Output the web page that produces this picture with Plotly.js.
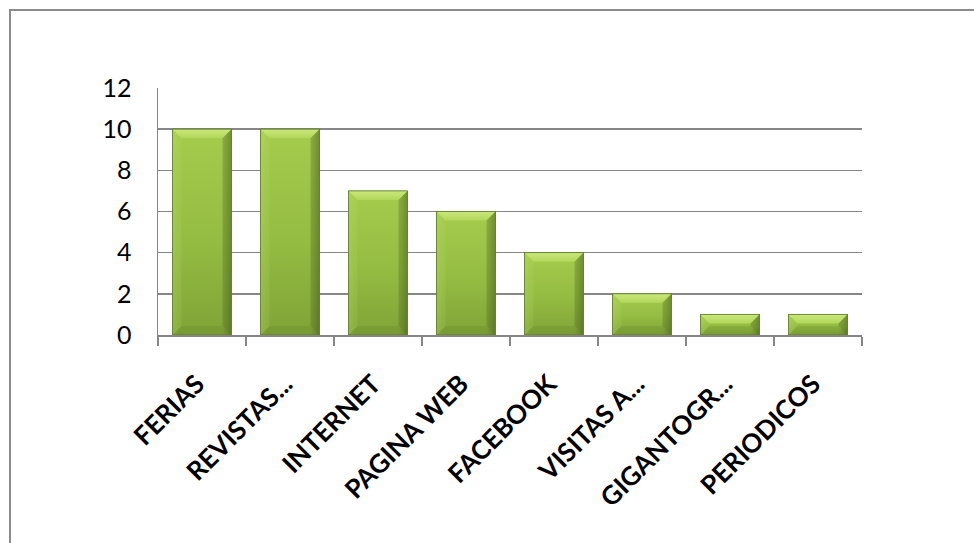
<!DOCTYPE html>
<html>
<head>
<meta charset="utf-8">
<script src="https://cdn.plot.ly/plotly-3.0.1.min.js"></script>
<style>
  html, body { margin: 0; padding: 0; background: #ffffff; }
  #chart { width: 974px; height: 543px; }
</style>
</head>
<body>
<div id="chart"></div>
<script>
// Medios de promoción: número de menciones por medio
const categories = ['FERIAS', 'REVISTAS...', 'INTERNET', 'PAGINA WEB', 'FACEBOOK', 'VISITAS A...', 'GIGANTOGR...', 'PERIODICOS'];
const values = [10, 10, 7, 6, 4, 2, 1, 1];
const yTicks = [0, 2, 4, 6, 8, 10, 12];

const gridColor = '#868686';

const trace = {
  type: 'bar',
  x: categories,
  y: values,
  width: 0.67,
  marker: { color: '#8fb83f', line: { color: '#6a8a2c', width: 0.6 } },
  hoverinfo: 'x+y'
};

const layout = {
  width: 974,
  height: 543,
  margin: { l: 158, r: 112, t: 88, b: 208 },
  paper_bgcolor: '#ffffff',
  plot_bgcolor: '#ffffff',
  showlegend: false,
  font: { family: 'Lato, "DejaVu Sans", sans-serif', color: '#000000' },
  xaxis: {
    type: 'category',
    tickangle: -45,
    tickfont: { family: 'Lato, sans-serif', size: 26, color: '#000000', weight: 'bold' },
    showline: true,
    linecolor: gridColor,
    linewidth: 1.5,
    ticks: 'outside',
    tickson: 'boundaries',
    ticklen: 9,
    tickcolor: gridColor,
    tickwidth: 1.5,
    showgrid: false,
    ticklabelstandoff: 22,
    ticklabelshift: -5,
    fixedrange: true
  },
  yaxis: {
    range: [0, 12],
    tickvals: yTicks,
    ticktext: yTicks.map(String),
    tickfont: { family: 'Lato, sans-serif', size: 25, color: '#000000' },
    showline: true,
    linecolor: gridColor,
    linewidth: 1.5,
    showgrid: true,
    gridcolor: gridColor,
    gridwidth: 1.5,
    zeroline: false,
    ticks: '',
    ticklabelstandoff: 20,
    fixedrange: true
  },
  shapes: [
    // outer chart frame (left and top edges visible)
    {
      type: 'rect', xref: 'paper', yref: 'paper',
      x0: (10 - 158) / 704, x1: 1.6,
      y0: -1.2, y1: 1 + (88 - 10) / 247,
      line: { color: '#8c8c8c', width: 2 },
      fillcolor: 'rgba(0,0,0,0)', layer: 'below'
    }
  ]
};

// Beveled green gradient finish applied to each bar that Plotly drew
function decorateBars(gd) {
  const svg = gd.querySelector('svg.main-svg');
  const ns = 'http://www.w3.org/2000/svg';
  let defs = svg.querySelector('defs');
  if (!defs) { defs = document.createElementNS(ns, 'defs'); svg.insertBefore(defs, svg.firstChild); }

  function grad(id, horiz, stops) {
    const g = document.createElementNS(ns, 'linearGradient');
    g.setAttribute('id', id);
    g.setAttribute('x1', '0'); g.setAttribute('y1', '0');
    g.setAttribute('x2', horiz ? '1' : '0'); g.setAttribute('y2', horiz ? '0' : '1');
    stops.forEach(s => {
      const st = document.createElementNS(ns, 'stop');
      st.setAttribute('offset', s[0]);
      st.setAttribute('stop-color', s[1]);
      if (s[2] !== undefined) st.setAttribute('stop-opacity', s[2]);
      g.appendChild(st);
    });
    defs.appendChild(g);
  }
  grad('barBody', false, [['0', '#a6cc4d'], ['0.55', '#94bc42'], ['1', '#80a337']]);
  grad('barSide', true, [['0', '#ffffff', 0.08], ['0.12', '#ffffff', 0], ['0.85', '#000000', 0], ['1', '#000000', 0.22]]);
  grad('barTop', false, [['0', '#c9e87c'], ['1', '#b2d75a']]);

  const paths = gd.querySelectorAll('.barlayer .point path');
  paths.forEach(p => {
    const nums = (p.getAttribute('d').match(/-?\d+(\.\d+)?/g) || []).map(Number);
    if (nums.length < 4) return;
    // d = M x0,yBase V yTop H x1 V yBase Z
    const x0 = Math.min(nums[0], nums[3]), x1 = Math.max(nums[0], nums[3]);
    const yb = Math.max(nums[1], nums[2]), yt = Math.min(nums[1], nums[2]);
    p.style.fill = 'url(#barBody)';
    const parent = p.parentNode;
    const b = Math.min(9, (yb - yt) / 2, (x1 - x0) / 4);

    const side = document.createElementNS(ns, 'rect');
    side.setAttribute('x', x0); side.setAttribute('y', yt);
    side.setAttribute('width', x1 - x0); side.setAttribute('height', yb - yt);
    side.setAttribute('fill', 'url(#barSide)');
    parent.appendChild(side);

    const poly = (pts, fill, op) => {
      const e = document.createElementNS(ns, 'polygon');
      e.setAttribute('points', pts.map(q => q.join(',')).join(' '));
      e.setAttribute('fill', fill);
      if (op !== undefined) e.setAttribute('fill-opacity', op);
      parent.appendChild(e);
    };
    // top bevel
    poly([[x0, yt], [x1, yt], [x1 - b, yt + b], [x0 + b, yt + b]], 'url(#barTop)');
    // left bevel
    poly([[x0, yt], [x0 + b, yt + b], [x0 + b, yb - b], [x0, yb]], '#b4d865', 0.2);
    // right bevel
    poly([[x1, yt], [x1, yb], [x1 - b, yb - b], [x1 - b, yt + b]], '#4f6a20', 0.3);
    // bottom bevel
    poly([[x0, yb], [x0 + b, yb - b], [x1 - b, yb - b], [x1, yb]], '#4f6a20', 0.15);

    const outline = document.createElementNS(ns, 'rect');
    outline.setAttribute('x', x0); outline.setAttribute('y', yt);
    outline.setAttribute('width', x1 - x0); outline.setAttribute('height', yb - yt);
    outline.setAttribute('fill', 'none');
    outline.setAttribute('stroke', '#627f2b');
    outline.setAttribute('stroke-width', '0.8');
    parent.appendChild(outline);
  });
}

const gd = document.getElementById('chart');
Plotly.newPlot(gd, [trace], layout, { displayModeBar: false, staticPlot: true })
  .then(() => decorateBars(gd));
</script>
</body>
</html>
